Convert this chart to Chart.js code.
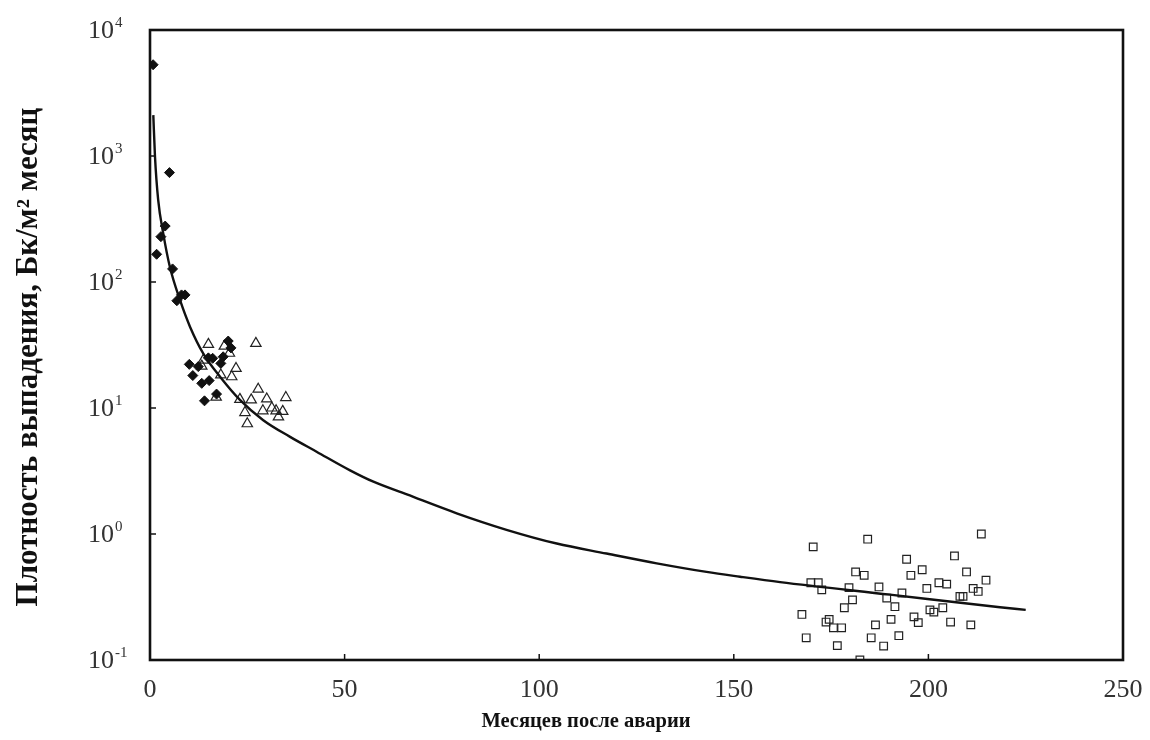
<!DOCTYPE html>
<html>
<head>
<meta charset="utf-8">
<script src="https://cdn.jsdelivr.net/npm/chart.js@4.4.0/dist/chart.umd.min.js"></script>
<style>
  html, body { margin: 0; padding: 0; background: #fff; }
  canvas { display: block; }
</style>
</head>
<body>
<canvas id="chart" width="1150" height="740"></canvas>
<script>
// months after the accident / deposition density, Bq/m2 per month
const diamondX = [0.8, 1.7, 2.8, 3.9, 5.0, 5.8, 6.9, 8.1, 9.0, 10.1, 11.0, 12.4, 13.3, 14.0, 15.0, 15.2, 16.1, 17.1, 18.2, 18.8, 20.1, 20.8];
const diamondY = [5300, 166, 229, 278, 738, 127, 71, 79, 79, 22.2, 18.1, 21.3, 15.7, 11.4, 25, 16.5, 24.8, 12.9, 22.6, 25.5, 34, 30];

const triangleX = [13.3, 13.7, 15.0, 17.0, 18.2, 19.1, 20.4, 21.0, 22.1, 23.1, 24.4, 25.0, 26.0, 27.2, 27.8, 29.0, 30.0, 31.3, 32.4, 33.0, 34.1, 34.9];
const triangleY = [21.5, 24, 32, 12.2, 18.3, 31, 27.2, 17.7, 20.6, 11.7, 9.2, 7.5, 11.6, 32.6, 14.1, 9.5, 11.8, 10.0, 9.5, 8.5, 9.4, 12.1];

const squareX = [170.4, 184.4, 213.6, 194.4, 206.7, 181.3, 183.5, 198.4, 195.5, 209.8, 214.8, 169.8, 171.7, 172.6, 179.6, 187.3,
  202.7, 204.7, 199.6, 211.5, 212.8, 208.1, 208.9, 193.2, 189.3, 180.5, 178.4, 191.4, 200.4, 201.4, 203.7, 167.5,
  174.5, 173.7, 190.4, 196.3, 197.4, 205.7, 210.9, 175.6, 177.7, 186.4, 168.6, 185.3, 192.4, 176.6, 188.5, 182.4];
const squareY = [0.79, 0.91, 1.0, 0.63, 0.67, 0.50, 0.47, 0.52, 0.47, 0.50, 0.43, 0.41, 0.41, 0.36, 0.375, 0.38,
  0.41, 0.40, 0.37, 0.37, 0.35, 0.32, 0.32, 0.34, 0.31, 0.30, 0.26, 0.265, 0.25, 0.24, 0.26, 0.23,
  0.21, 0.20, 0.21, 0.22, 0.198, 0.20, 0.19, 0.18, 0.18, 0.19, 0.15, 0.15, 0.156, 0.13, 0.129, 0.10];

// fitted curve
const curveX = [0.85, 1.28, 2.1, 3.4, 5.1, 7.7, 10.3, 13.7, 18.0, 23.1, 29.1, 36.0, 42.8, 51.4, 57.4, 66.0, 78.8, 91.6, 104.5, 117.3, 130.2, 143.0, 151.6, 161.9, 190.1, 218.4, 225];
const curveY = [2110, 990, 448, 243, 132, 72, 44, 27, 17.7, 11.6, 8.0, 5.9, 4.5, 3.2, 2.6, 2.06, 1.46, 1.08, 0.84, 0.70, 0.585, 0.50, 0.458, 0.415, 0.33, 0.262, 0.25];

const xTicks = [0, 50, 100, 150, 200, 250];
const yTicks = [0.1, 1, 10, 100, 1000, 10000];
const yExponents = ['-1', '0', '1', '2', '3', '4'];

const xTitle = 'Месяцев после аварии';
const yTitle = 'Плотность выпадения, Бк/м² месяц';

const serif = "'Liberation Serif', 'DejaVu Serif', serif";

function pts(xs, ys) {
  return xs.map((x, i) => ({ x: x, y: ys[i] }));
}

// frame, inward ticks, y labels with exponents, axis titles
const decorPlugin = {
  id: 'decor',
  afterDraw(chart) {
    const ctx = chart.ctx;
    const a = chart.chartArea;
    const xs = chart.scales.x, ys = chart.scales.y;
    ctx.save();
    ctx.strokeStyle = '#111';
    ctx.lineWidth = 1.5;
    xTicks.forEach(v => {
      const px = xs.getPixelForValue(v);
      ctx.beginPath(); ctx.moveTo(px, a.bottom); ctx.lineTo(px, a.bottom - 6); ctx.stroke();
    });
    yTicks.forEach(v => {
      const py = ys.getPixelForValue(v);
      ctx.beginPath(); ctx.moveTo(a.left, py); ctx.lineTo(a.left + 6, py); ctx.stroke();
    });
    ctx.lineWidth = 2.6;
    ctx.strokeRect(a.left, a.top, a.right - a.left, a.bottom - a.top);

    ctx.fillStyle = '#333';
    ctx.textBaseline = 'middle';
    yTicks.forEach((v, i) => {
      const py = ys.getPixelForValue(v);
      ctx.font = '26px ' + serif;
      ctx.textAlign = 'right';
      ctx.fillText('10', a.left - 36, py + 1);
      ctx.font = '15px ' + serif;
      ctx.textAlign = 'left';
      ctx.fillText(yExponents[i], a.left - 35, py - 7);
    });

    ctx.fillStyle = '#111';
    ctx.font = 'bold 20.5px ' + serif;
    ctx.textAlign = 'center';
    ctx.fillText(xTitle, 586, 722);
    ctx.translate(29, 357);
    ctx.rotate(-Math.PI / 2);
    ctx.font = 'bold 31px ' + serif;
    ctx.fillText(yTitle, 0, 0);
    ctx.restore();
  }
};

new Chart(document.getElementById('chart').getContext('2d'), {
  type: 'scatter',
  data: {
    datasets: [
      {
        data: pts(curveX, curveY),
        showLine: true,
        borderColor: '#111',
        borderWidth: 2.4,
        pointRadius: 0,
        cubicInterpolationMode: 'monotone',
        fill: false
      },
      {
        data: pts(diamondX, diamondY),
        pointStyle: 'rectRot',
        pointRadius: 5,
        backgroundColor: '#111',
        borderColor: '#111',
        borderWidth: 1
      },
      {
        data: pts(triangleX, triangleY),
        pointStyle: 'triangle',
        pointRadius: 6,
        backgroundColor: 'rgba(255,255,255,0)',
        borderColor: '#222',
        borderWidth: 1.2
      },
      {
        data: pts(squareX, squareY),
        pointStyle: 'rect',
        pointRadius: 5.4,
        backgroundColor: 'rgba(255,255,255,0)',
        borderColor: '#222',
        borderWidth: 1.2
      }
    ]
  },
  options: {
    responsive: false,
    animation: false,
    layout: { padding: { top: 30, right: 27, left: 0, bottom: 0 } },
    plugins: { legend: { display: false }, tooltip: { enabled: false } },
    scales: {
      x: {
        type: 'linear',
        min: 0,
        max: 250,
        afterBuildTicks: s => { s.ticks = xTicks.map(v => ({ value: v })); },
        afterFit: s => { s.height = 80; s.paddingLeft = 0; s.paddingRight = 0; },
        grid: { display: false, drawTicks: false },
        border: { display: false },
        ticks: { color: '#333', font: { family: serif, size: 26 }, padding: 15, maxRotation: 0 }
      },
      y: {
        type: 'logarithmic',
        min: 0.1,
        max: 10000,
        afterBuildTicks: s => { s.ticks = yTicks.map(v => ({ value: v })); },
        afterFit: s => { s.width = 150; s.paddingTop = 0; s.paddingBottom = 0; },
        grid: { display: false, drawTicks: false },
        border: { display: false },
        ticks: { display: false }
      }
    }
  },
  plugins: [decorPlugin]
});
</script>
</body>
</html>
